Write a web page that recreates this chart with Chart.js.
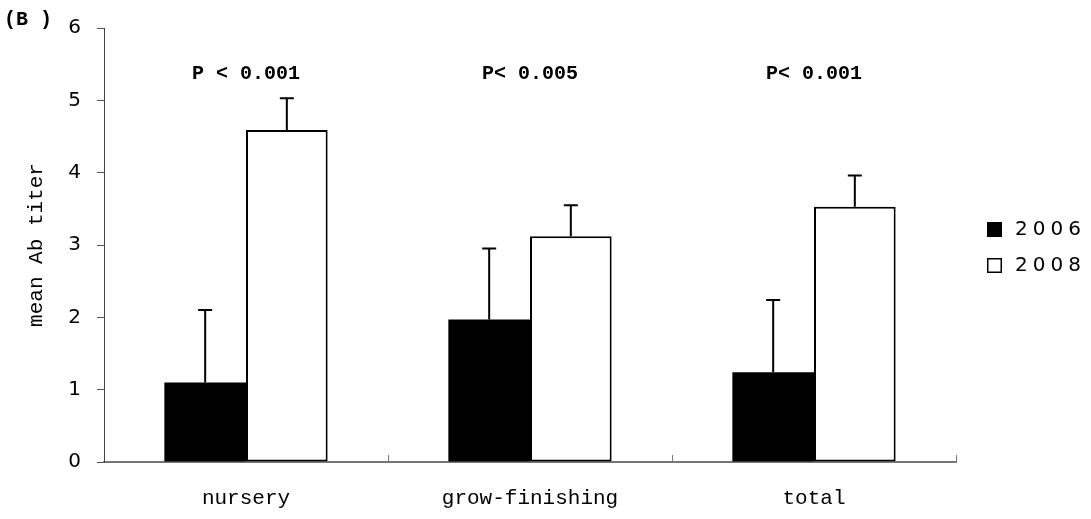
<!DOCTYPE html>
<html>
<head>
<meta charset="utf-8">
<script src="https://cdn.jsdelivr.net/npm/chart.js@4/dist/chart.umd.min.js"></script>
<style>
  html, body { margin: 0; padding: 0; background: #fff; }
  #wrap { width: 1091px; height: 519px; position: relative; }
</style>
</head>
<body>
<div id="wrap"><canvas id="chart"></canvas></div>
<script>
// data
const categories = ['nursery', 'grow-finishing', 'total'];
const years = ['2006', '2008'];
const mean2006 = [1.10, 1.97, 1.24];
const mean2008 = [4.59, 3.12, 3.53];
const err2006 = [1.00, 0.98, 1.00];
const err2008 = [0.44, 0.43, 0.43];
const pLabels = ['P < 0.001', 'P< 0.005', 'P< 0.001'];
const yTicks = [0, 1, 2, 3, 4, 5, 6];

const MONO = '"Liberation Mono", "DejaVu Sans Mono", monospace';

// error bars (upper only) + P values + x ticks + legend + panel letter
const extras = {
    id: 'extras',
    afterDatasetsDraw(chart) {
        const ctx = chart.ctx;
        const y = chart.scales.y;
        const x = chart.scales.x;
        const errs = [err2006, err2008];
        const vals = [mean2006, mean2008];

        ctx.save();
        ctx.strokeStyle = '#000';
        ctx.lineWidth = 2;
        chart.data.datasets.forEach((ds, di) => {
            const meta = chart.getDatasetMeta(di);
            meta.data.forEach((bar, i) => {
                const top = y.getPixelForValue(vals[di][i] + errs[di][i]);
                ctx.beginPath();
                ctx.moveTo(bar.x, bar.y);
                ctx.lineTo(bar.x, top);
                ctx.moveTo(bar.x - 7, top);
                ctx.lineTo(bar.x + 7, top);
                ctx.stroke();
            });
        });

        // small inward tick marks between categories on the x axis
        ctx.strokeStyle = '#777';
        ctx.lineWidth = 1;
        const step = x.getPixelForValue(1) - x.getPixelForValue(0);
        for (let i = 0; i < categories.length; i++) {
            const px = Math.round(x.getPixelForValue(i) + step / 2) + 0.5;
            ctx.beginPath();
            ctx.moveTo(px, y.bottom);
            ctx.lineTo(px, y.bottom - 7);
            ctx.stroke();
        }

        // significance labels
        ctx.fillStyle = '#000';
        ctx.font = 'bold 20px ' + MONO;
        ctx.textAlign = 'center';
        ctx.textBaseline = 'middle';
        pLabels.forEach((t, i) => {
            ctx.fillText(t, x.getPixelForValue(i), y.getPixelForValue(5.36));
        });

        // panel letter
        ctx.font = 'bold 20px ' + MONO;
        ctx.textAlign = 'left';
        ctx.fillText('(B )', 4, 20);

        // legend
        ctx.font = '20px "DejaVu Sans", sans-serif';
        ctx.letterSpacing = '5px';
        ctx.textBaseline = 'middle';
        const lx = 987, ly = [229, 265];
        years.forEach((yr, i) => {
            ctx.lineWidth = 1.5;
            if (i === 0) {
                ctx.fillStyle = '#000';
                ctx.fillRect(lx, ly[i] - 7, 15, 15);
            } else {
                ctx.strokeStyle = '#000';
                ctx.strokeRect(lx + 0.75, ly[i] - 6.25, 13.5, 13.5);
            }
            ctx.fillStyle = '#000';
            ctx.fillText(yr, lx + 28, ly[i] + 1);
        });
        ctx.restore();
    }
};

new Chart(document.getElementById('chart'), {
    type: 'bar',
    data: {
        labels: categories,
        datasets: [{
            label: years[0],
            data: mean2006,
            backgroundColor: '#000',
            borderColor: '#000',
            borderWidth: 0
        }, {
            label: years[1],
            data: mean2008,
            backgroundColor: '#fff',
            borderColor: '#000',
            borderWidth: 2,
            borderSkipped: false
        }]
    },
    options: {
        responsive: true,
        maintainAspectRatio: false,
        animation: false,
        layout: { padding: { top: 23, right: 135, left: 24, bottom: 0 } },
        datasets: { bar: { categoryPercentage: 0.575, barPercentage: 1.0 } },
        scales: {
            x: {
                grid: { display: false },
                border: { display: true, color: '#777', width: 2 },
                ticks: {
                    color: '#000',
                    padding: 16,
                    font: { family: MONO, size: 21 }
                },
                afterFit(s) { s.height = 57; }
            },
            y: {
                min: 0,
                max: 6,
                afterBuildTicks(s) { s.ticks = yTicks.map(v => ({ value: v })); },
                grid: {
                    display: true,
                    drawOnChartArea: false,
                    drawTicks: true,
                    tickLength: 7,
                    color: '#555'
                },
                border: { display: true, color: '#444', width: 1 },
                ticks: {
                    color: '#000',
                    padding: 16,
                    font: { family: '"DejaVu Sans", sans-serif', size: 20 }
                },
                title: {
                    display: true,
                    text: 'mean Ab titer',
                    color: '#000',
                    padding: { top: 0, bottom: 6 },
                    font: { family: MONO, size: 21 }
                },
                afterFit(s) { s.width = 80; }
            }
        },
        plugins: {
            legend: { display: false },
            tooltip: { enabled: false }
        }
    },
    plugins: [extras]
});
</script>
</body>
</html>
